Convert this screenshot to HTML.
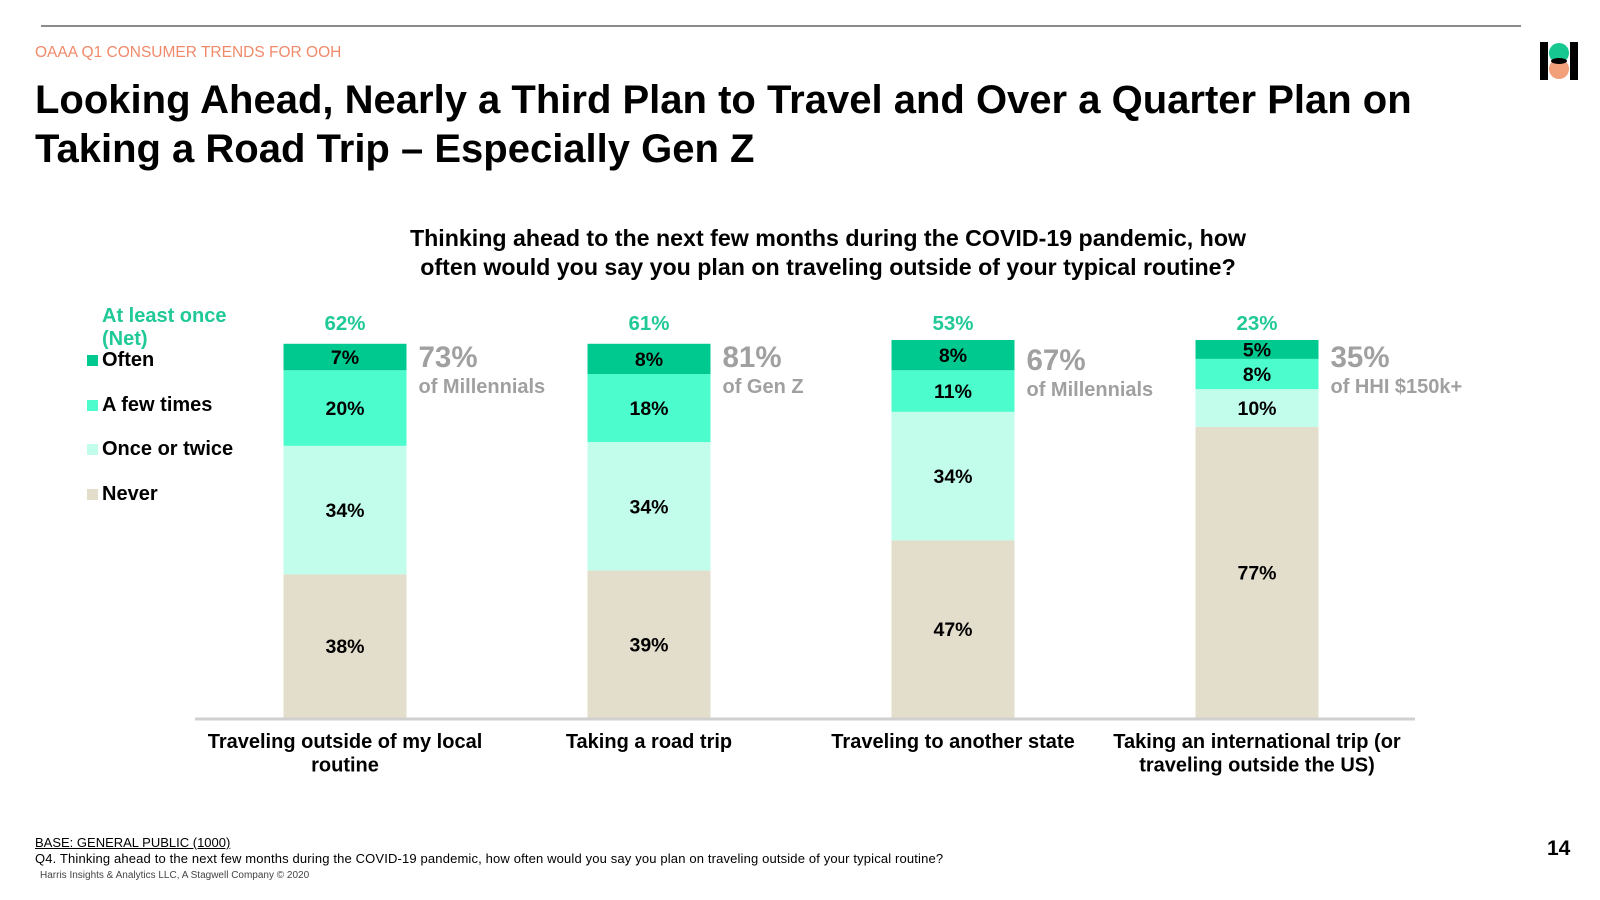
<!DOCTYPE html>
<html><head><meta charset="utf-8"><style>
body{margin:0;width:1600px;height:900px;background:#fff;font-family:"Liberation Sans",Arial,sans-serif;overflow:hidden;position:relative}
.abs{position:absolute}
</style></head><body>
<div class="abs" style="left:41px;top:25px;width:1480px;height:2px;background:#8c8c8c"></div>
<div class="abs" style="left:35px;top:44px;font-size:15.5px;color:#f08a6a">OAAA Q1 CONSUMER TRENDS FOR OOH</div>
<div class="abs" style="left:35px;top:76px;font-size:40px;font-weight:bold;line-height:49px;color:#000;white-space:nowrap">Looking Ahead, Nearly a Third Plan to Travel and Over a Quarter Plan on<br>Taking a Road Trip – Especially Gen Z</div>
<svg class="abs" style="left:1540px;top:42px" width="40" height="40" viewBox="0 0 40 40">
<rect x="0" y="0" width="8" height="38" fill="#000"/><rect x="30" y="0" width="8" height="38" fill="#000"/>
<circle cx="19" cy="11" r="10" fill="#17c790"/><circle cx="19" cy="27" r="10" fill="#f2a07a"/>
<ellipse cx="19" cy="19" rx="8" ry="3" fill="#000"/></svg>
<div class="abs" style="left:328px;top:224px;width:1000px;text-align:center;font-size:23.2px;font-weight:bold;line-height:28.5px">Thinking ahead to the next few months during the COVID-19 pandemic, how<br>often would you say you plan on traveling outside of your typical routine?</div>
<div class="abs" style="left:102px;top:305px;font-size:20px;font-weight:bold;color:#20c997;line-height:23px">At least once<br>(Net)</div>
<div class="abs" style="left:87px;top:349px;font-size:20px;font-weight:bold;line-height:23px">
<div style="position:absolute;top:0;white-space:nowrap"><span style="display:inline-block;width:11px;height:11px;background:#00c98f;margin-right:4px"></span>Often</div>
<div style="position:absolute;top:45px;white-space:nowrap"><span style="display:inline-block;width:11px;height:11px;background:#4cfccc;margin-right:4px"></span>A few times</div>
<div style="position:absolute;top:89px;white-space:nowrap"><span style="display:inline-block;width:11px;height:11px;background:#c2fcea;margin-right:4px"></span>Once or twice</div>
<div style="position:absolute;top:134px;white-space:nowrap"><span style="display:inline-block;width:11px;height:11px;background:#e3ddcc;margin-right:4px"></span>Never</div>
</div>
<svg id="chart" class="abs" style="left:0;top:0" width="1600" height="800"></svg>
<div class="abs" style="left:35px;top:835px;font-size:13px;text-decoration:underline">BASE: GENERAL PUBLIC (1000)</div>
<div class="abs" style="left:35px;top:851px;font-size:13px;letter-spacing:0.15px">Q4. Thinking ahead to the next few months during the COVID-19 pandemic, how often would you say you plan on traveling outside of your typical routine?</div>
<div class="abs" style="left:40px;top:870px;font-size:10px;color:#444">Harris Insights &amp; Analytics LLC, A Stagwell Company © 2020</div>
<div class="abs" style="left:1547px;top:837px;font-size:21px;font-weight:bold">14</div>
<script>
const categories=["Traveling outside of my local|routine","Taking a road trip","Traveling to another state","Taking an international trip (or|traveling outside the US)"];
const never=[38,39,47,77];
const onceTwice=[34,34,34,10];
const fewTimes=[20,18,11,8];
const often=[7,8,8,5];
const netValues=["62%","61%","53%","23%"];
const calloutValues=["73%","81%","67%","35%"];
const calloutGroups=["of Millennials","of Gen Z","of Millennials","of HHI $150k+"];
const series=[{name:"never",vals:never,color:"#e3ddcc"},{name:"once-or-twice",vals:onceTwice,color:"#c2fcea"},{name:"a-few-times",vals:fewTimes,color:"#4cfccc"},{name:"often",vals:often,color:"#00c98f"}];
const svg=document.getElementById('chart');const NS="http://www.w3.org/2000/svg";
const baseY=718,pxPer=3.78,barW=123;
const x=i=>345+i*304;const y=v=>baseY-v*pxPer;
const FF='Liberation Sans, Arial, sans-serif';
function el(t,a){const e=document.createElementNS(NS,t);for(const k in a)e.setAttribute(k,a[k]);svg.appendChild(e);return e;}
function txt(s,a){const e=el('text',a);e.textContent=s;return e;}
categories.forEach((c,i)=>{
 let cum=0;
 series.forEach(s=>{
  const v=s.vals[i];
  const r=el('rect',{x:x(i)-barW/2,y:y(cum+v),width:barW,height:v*pxPer,fill:s.color});
  
  
  const h=v*pxPer;
  const ty=y(cum+v)+h/2+7;
  const t=txt(v+"%",{x:x(i),y:ty,'text-anchor':'middle','font-size':19.5,'font-weight':'bold','font-family':FF});
  
  
  cum+=v;
 });
 const n=txt(netValues[i],{x:x(i),y:330,'text-anchor':'middle','font-size':20.5,'font-weight':'bold',fill:'#20c997','font-family':FF});
 
 
 const cx=x(i)+barW/2+12;
 const cv=txt(calloutValues[i],{x:cx,y:i==2?370:367,'font-size':29.5,'font-weight':'bold',fill:'#a0a0a0','font-family':FF});
 
 
 const cg=txt(calloutGroups[i],{x:cx,y:i==2?396:393,'font-size':20,'font-weight':'bold',fill:'#a0a0a0','font-family':FF});
 
 
 c.split('|').forEach((line,j)=>{
  const t=txt(line,{x:x(i),y:748+j*23.5,'text-anchor':'middle','font-size':20,'font-weight':'bold','font-family':FF});
  
  
 });
});
const ax=el('line',{x1:195,x2:1415,y1:baseY+1,y2:baseY+1,stroke:'#d0d0d0','stroke-width':3});


</script>
</body></html>
